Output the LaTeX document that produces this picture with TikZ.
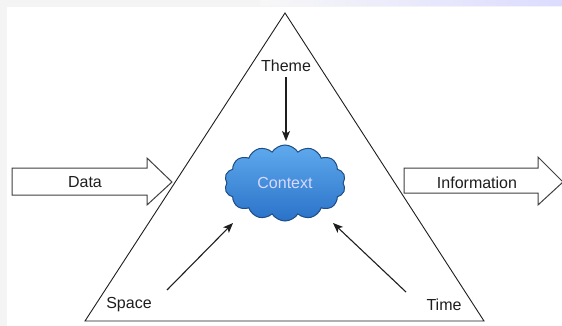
\documentclass[tikz,border=0pt]{standalone}
\usepackage{fontspec}
\setmainfont{Liberation Sans}
\usepackage{tikz}
\usetikzlibrary{shapes.symbols,arrows.meta}

\definecolor{cloudtop}{HTML}{5FAAEE}
\definecolor{cloudbot}{HTML}{2A72C8}
\definecolor{cloudline}{HTML}{1D4C86}
\definecolor{inkgray}{HTML}{1E1E1E}

\begin{document}
\begin{tikzpicture}[x=1pt, y=-1pt,
    font=\fontsize{16}{19}\selectfont,
    lbl/.style={text=inkgray, inner sep=1pt},
    arr/.style={draw=inkgray, line width=1.1pt, -{Stealth[length=10pt, width=8pt, inset=2.5pt]}},
    fat/.style={draw=inkgray!85, line width=1pt, fill=white}]
            % Define background
            \useasboundingbox (0,0) rectangle (562,326);
            \fill[gray!9] (0,0) rectangle (562,326);
            \shade[left color=gray!6, right color=blue!14] (260,0) rectangle (562,6);
            \fill[white] (7,7) rectangle (562,326);

            % Define triangle corners
            \coordinate (top) at (285,13);
            \coordinate (left) at (85,321);
            \coordinate (right) at (484,321);
            \draw[inkgray, line width=0.9pt] (top) -- (left) -- (right) -- cycle;

            % Define block arrows
            \draw[fat] (12,168) -- (147,168) -- (147,158) -- (172,182)
                -- (147,205) -- (147,195) -- (12,195) -- cycle;
            \draw[fat] (404,168) -- (538,168) -- (538,157) -- (563,182)
                -- (538,205) -- (538,193) -- (404,193) -- cycle;

            % Define labels
            \node[lbl] (data) at (85,182) {Data};
            \node[lbl] (info) at (477,183) {Information};
            \node[lbl] (theme) at (286,66) {Theme};
            \node[lbl] (space) at (129,305) {Space};
            \node[lbl] (time) at (444,305) {Time};

            % Define cloud
            \node[cloud, cloud puffs=14, cloud puff arc=115, aspect=1.7,
                minimum width=121pt, minimum height=76pt, inner sep=0pt,
                draw=cloudline, line width=1pt,
                top color=cloudtop, bottom color=cloudbot,
                text=white!85!blue] (context) at (285,183) {Context};

            % Draw arrows into the cloud
            \coordinate (spacetail) at (167,290);
            \coordinate (spacehead) at (233,223);
            \coordinate (timetail) at (406,292);
            \coordinate (timehead) at (333,223);
            \draw[arr] (theme.south) ++(0,4) -- (286,141);
            \draw[arr] (spacetail) -- (spacehead);
            \draw[arr] (timetail) -- (timehead);
        \end{tikzpicture}
\end{document}
